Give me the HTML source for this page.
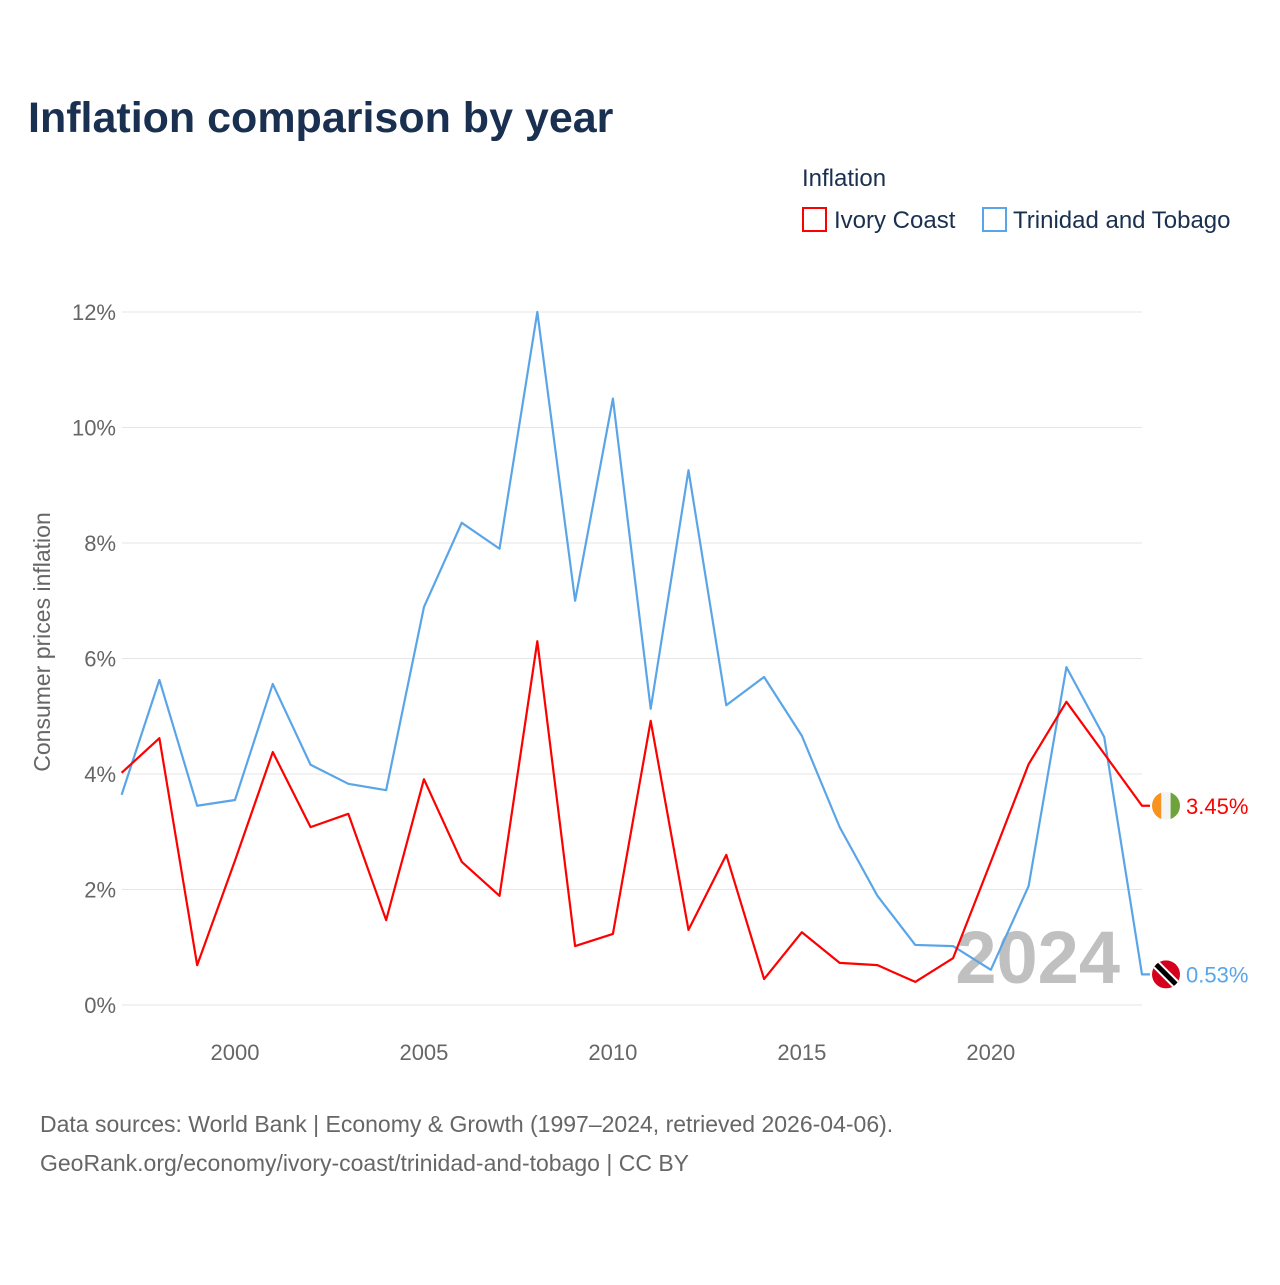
<!DOCTYPE html>
<html><head><meta charset="utf-8"><style>
body{margin:0;background:#fff;font-family:"Liberation Sans",sans-serif;}
svg text{font-family:"Liberation Sans",sans-serif;}
</style></head><body>
<svg id="chart" width="1280" height="1280" viewBox="0 0 1280 1280">
<defs id="defs"></defs>
<text x="28" y="132" font-size="43" font-weight="bold" fill="#1a3050">Inflation comparison by year</text>
<text x="802" y="186" font-size="24" fill="#1a3050">Inflation</text>
<g><rect x="803" y="208" width="23" height="23" fill="none" stroke="#ff0000" stroke-width="2"/><text x="834" y="228" font-size="24" fill="#1a3050">Ivory Coast</text></g>
<g><rect x="983" y="208" width="23" height="23" fill="none" stroke="#5aa5e8" stroke-width="2"/><text x="1013" y="228" font-size="24" fill="#1a3050">Trinidad and Tobago</text></g>
<text transform="translate(50,642) rotate(-90)" text-anchor="middle" font-size="23" fill="#666">Consumer prices inflation</text>
<g id="grid"></g><g id="xt"></g>
<text x="1120" y="983" text-anchor="end" font-size="74" font-weight="bold" fill="#c0c0c0">2024</text>
<g id="lines"></g>
<text x="40" y="1132" font-size="23" fill="#666">Data sources: World Bank | Economy &amp; Growth (1997–2024, retrieved 2026-04-06).</text>
<text x="40" y="1171" font-size="23" fill="#666">GeoRank.org/economy/ivory-coast/trinidad-and-tobago | CC BY</text>
</svg>
<script>
const years=[1997,1998,1999,2000,2001,2002,2003,2004,2005,2006,2007,2008,2009,2010,2011,2012,2013,2014,2015,2016,2017,2018,2019,2020,2021,2022,2023,2024];
const ivoryCoast=[4.02,4.62,0.69,2.5,4.38,3.08,3.31,1.47,3.91,2.48,1.89,6.30,1.02,1.23,4.92,1.30,2.60,0.45,1.26,0.73,0.69,0.40,0.81,2.48,4.17,5.25,4.35,3.45];
const trinidad=[3.64,5.63,3.45,3.55,5.56,4.16,3.83,3.72,6.89,8.35,7.90,12.0,7.0,10.5,5.13,9.26,5.19,5.68,4.66,3.08,1.89,1.04,1.02,0.61,2.06,5.85,4.64,0.53];
const yTicks=[0,2,4,6,8,10,12];
const xTicks=[2000,2005,2010,2015,2020];
const NS="http://www.w3.org/2000/svg";
const X=y=>121.6+(y-1997)*(1142-121.6)/27;
const Y=v=>1005-v*57.75;
function mk(t,a,p){const e=document.createElementNS(NS,t);for(const k in a)e.setAttribute(k,a[k]);p.appendChild(e);return e;}
const g=document.getElementById('grid');
yTicks.forEach(v=>{
 const l=mk('line',{x1:122,x2:1142,y1:Y(v),y2:Y(v),stroke:'#e6e6e6','stroke-width':1},g);
 
 
 const t=mk('text',{x:116,y:Y(v)+8,'text-anchor':'end','font-size':22,fill:'#666'},g);
 
 
 t.textContent=v+'%';
});
const xt=document.getElementById('xt');
xTicks.forEach(v=>{
 const t=mk('text',{x:X(v),y:1060,'text-anchor':'middle','font-size':22,fill:'#666'},xt);
 
 
 t.textContent=v;
});
const L=document.getElementById('lines');
const defs=document.getElementById('defs');
function series(vals,col,name,flag){
 const pts=vals.map((v,i)=>X(years[i])+','+Y(v));
 const last=vals[vals.length-1];
 pts.push((X(2024)+8)+','+Y(last));
 const p=mk('polyline',{points:pts.join(' '),fill:'none',stroke:col,'stroke-width':2.2,'stroke-linejoin':'round'},L);
 
 
 const c=mk('g',{},L);
 
 
 const cy=Y(last);
 const cp=mk('clipPath',{id:'clip-'+name},defs);
 mk('circle',{cx:1166,cy:cy,r:14},cp);
 const fg=mk('g',{'clip-path':'url(#clip-'+name+')'},c);
 if(flag==='ci'){
  mk('rect',{x:1152,y:cy-14,width:9.4,height:28,fill:'#f7931e'},fg);
  mk('rect',{x:1161.3,y:cy-14,width:9.4,height:28,fill:'#f4f4f4'},fg);
  mk('rect',{x:1170.6,y:cy-14,width:9.4,height:28,fill:'#6ea33c'},fg);
 } else {
  mk('rect',{x:1152,y:cy-14,width:28,height:28,fill:'#d6001c'},fg);
  mk('line',{x1:1154,y1:cy-12,x2:1178,y2:cy+12,stroke:'#fff','stroke-width':9},fg);
  mk('line',{x1:1154,y1:cy-12,x2:1178,y2:cy+12,stroke:'#000','stroke-width':5},fg);
 }
 const t=mk('text',{x:1186,y:cy+8,'font-size':22,fill:col},L);
 
 
 t.textContent=last.toFixed(2)+'%';
}
series(trinidad,'#5aa5e8','trinidad','tt');
series(ivoryCoast,'#ff0000','ivory-coast','ci');
</script>
</body></html>
